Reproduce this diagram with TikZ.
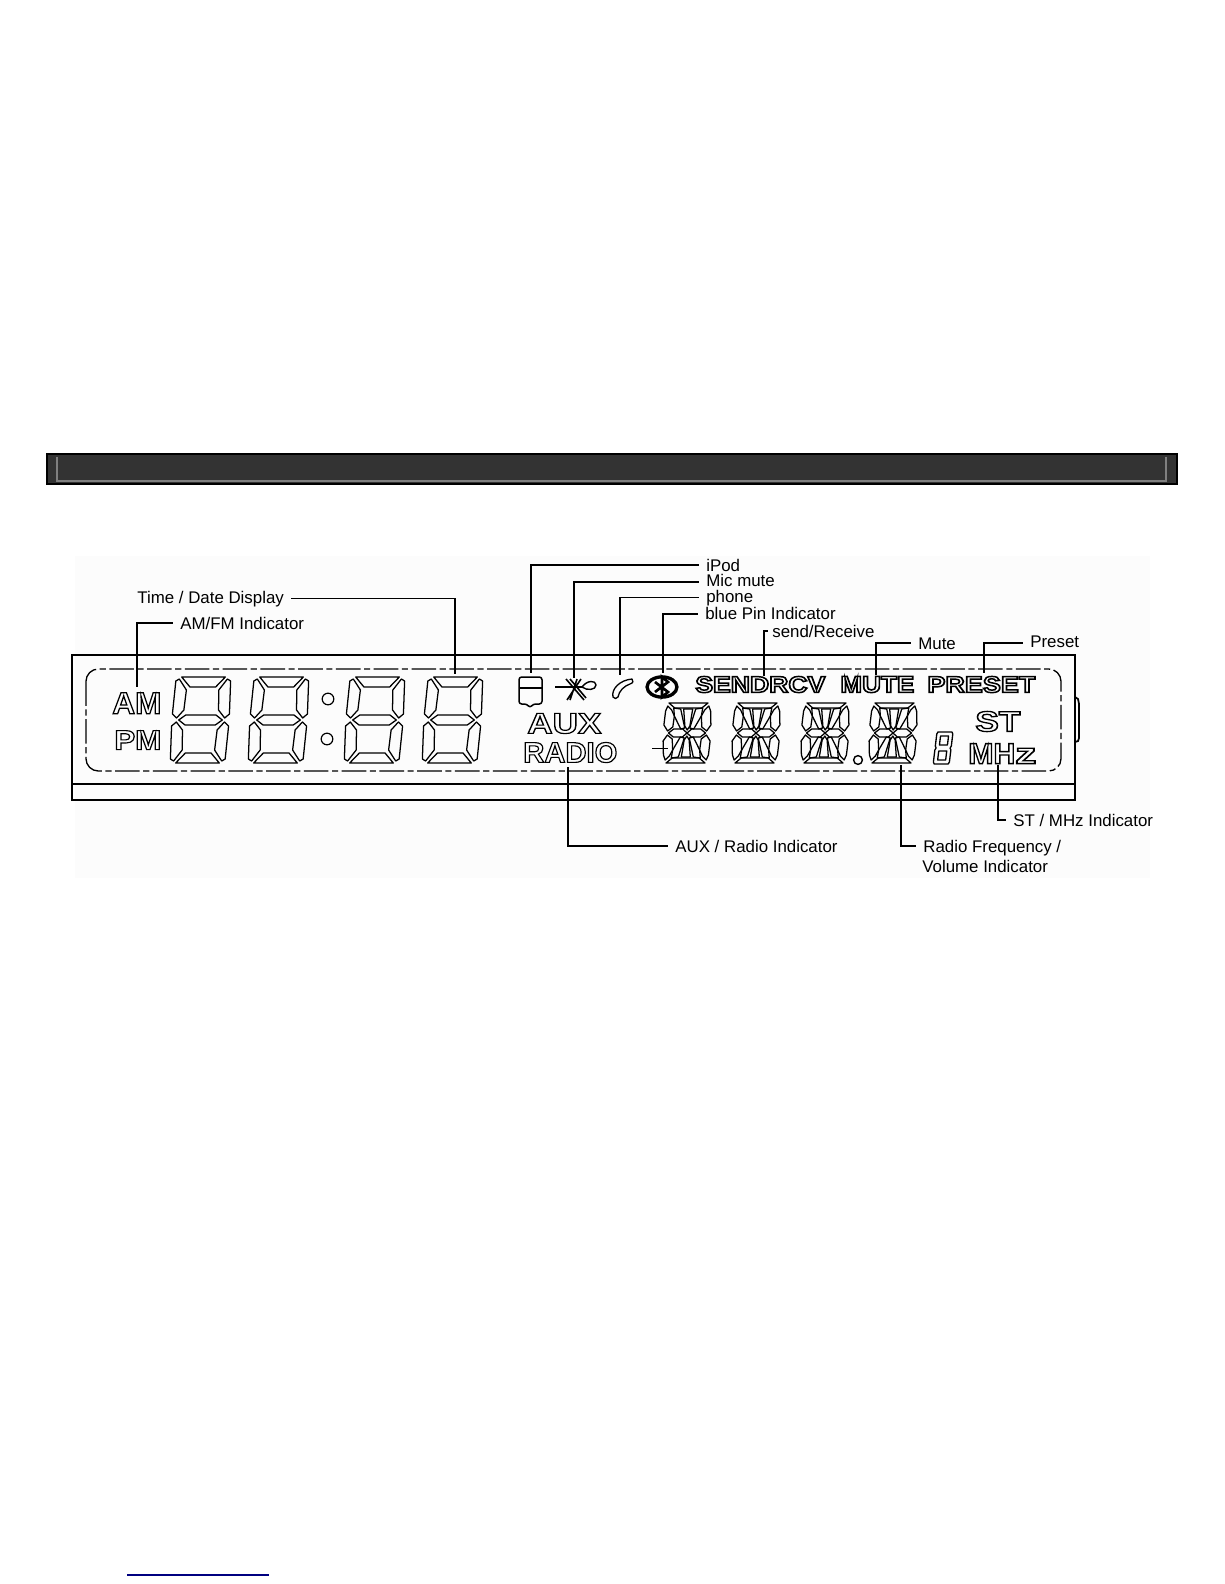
\documentclass[tikz,border=0pt]{standalone}
\usepackage{fontspec}
\usetikzlibrary{shapes.geometric}
\setmainfont{Liberation Sans}
\newlength\pxu
\setlength\pxu{0.02cm}
\newcommand\outl[2]{\special{pdf:code 1 Tr #1 w}#2\special{pdf:code 0 Tr}}
% outlined LCD legend: name, x, y of lower edge, width, height, stroke, text
\newcommand\lcdtext[7]{\node[lcdlegend] (#1) at (#2,#3) {\resizebox{#4\pxu}{#5\pxu}{\fontsize{20}{24}\selectfont\bfseries\outl{#6}{#7}}};}
% seven segment digit, origin at the upper left corner
\newcommand\segdigit[2]{\begin{scope}[shift={(#1,#2)},xslant=0.07,xscale=1.118]
\draw[seg] (6,0)--(45,0)--(37,10)--(14,10)--cycle;
\draw[seg] (6,86)--(45,86)--(37,76)--(14,76)--cycle;
\draw[seg] (6,43)--(12,38)--(39,38)--(45,43)--(39,48)--(12,48)--cycle;
\draw[seg] (1,4)--(4,2)--(11,13)--(10,33)--(4,41)--(0,37)--cycle;
\draw[seg] (50,4)--(47,2)--(40,13)--(41,33)--(47,41)--(51,37)--cycle;
\draw[seg] (0,49)--(4,45)--(10,53)--(11,73)--(4,84)--(1,82)--cycle;
\draw[seg] (51,49)--(47,45)--(41,53)--(40,73)--(47,84)--(50,82)--cycle;
\end{scope}}
% fourteen segment digit
\newcommand\alphadigit[2]{\begin{scope}[shift={(#1,#2)},xslant=0.05]
\draw[seg] (4,0)--(43,0)--(37,5)--(10,5)--cycle;
\draw[seg] (4,60)--(43,60)--(37,55)--(10,55)--cycle;
\draw[seg] (0,22)--(1,8)--(3,3)--(7,7)--(10,13)--(9,24)--(4,28)--cycle;
\draw[seg] (47,22)--(46,8)--(44,3)--(40,7)--(37,13)--(38,24)--(43,28)--cycle;
\draw[seg] (0,38)--(4,32)--(9,36)--(10,47)--(7,53)--(3,57)--(1,52)--cycle;
\draw[seg] (47,38)--(43,32)--(38,36)--(37,47)--(40,53)--(44,57)--(46,52)--cycle;
\draw[seg] (19,6)--(28,6)--(26,23)--(23.5,27)--(21,23)--cycle;
\draw[seg] (19,54)--(28,54)--(26,37)--(23.5,33)--(21,37)--cycle;
\draw[seg] (9,5)--(16,6)--(21,25)--(17,26)--(10,13)--cycle;
\draw[seg] (38,5)--(31,6)--(26,25)--(30,26)--(37,13)--cycle;
\draw[seg] (9,55)--(16,54)--(21,35)--(17,34)--(10,47)--cycle;
\draw[seg] (38,55)--(31,54)--(26,35)--(30,34)--(37,47)--cycle;
\draw[seg] (5,30)--(10,26)--(19,26)--(23.5,30)--(19,34)--(10,34)--cycle;
\draw[seg] (23.5,30)--(28,26)--(37,26)--(42,30)--(37,34)--(28,34)--cycle;
\end{scope}}
\tikzset{
  seg/.style={draw=black,line width=0.72pt,line join=round},
  conn/.style={draw=black,line width=0.95pt,shorten <=4pt},
  lab/.style={inner sep=0pt,anchor=base west,font=\fontsize{9.6}{11}\selectfont,text=black},
  lcdlegend/.style={inner sep=0pt,anchor=south west},
  frameline/.style={draw=black,line width=1pt},
  lcdedge/.style={draw=black,line width=0.75pt,dash pattern=on 14pt off 2pt on 3.5pt off 2pt},
}
\begin{document}
\begin{tikzpicture}[x=0.02cm,y=-0.02cm]
\path[use as bounding box,fill=white] (0,0) rectangle (1224,1584);
% heading band
\draw[fill=black!80,draw=black,line width=1pt] (47,454) rectangle (1177,484);
\draw[draw=black!50,line width=0.8pt] (57,457) |- (1166,481) -- (1166,457);
% faint picture ground
\fill[black!1] (75,556) rectangle (1150,878);
% housing
\draw[frameline] (72,655) rectangle (1075,800);
\draw[frameline] (72,784) -- (1075,784);
\draw[frameline] (1075,697) -- (1078,699) -- (1079,704) -- (1079,738) -- (1078,741) -- (1075,742);
\draw[lcdedge,rounded corners=7pt] (86,669) rectangle (1061,771);
% clock digits
\segdigit{175}{677}
\segdigit{253}{677}
\segdigit{349}{677}
\segdigit{427}{677}
\node[circle,draw=black,line width=0.7pt,minimum size=6.6pt,inner sep=0pt] (dotup) at (328,699) {};
\node[circle,draw=black,line width=0.7pt,minimum size=6.6pt,inner sep=0pt] (dotdn) at (327,739) {};
% frequency digits
\alphadigit{665}{703}
\alphadigit{734}{703}
\alphadigit{803}{703}
\alphadigit{871}{703}
\draw[draw=black,line width=0.5pt] (652,748) -- (668,748);
\node[circle,draw=black,line width=0.8pt,minimum size=5pt,inner sep=0pt] (decdot) at (858,760) {};
\begin{scope}[shift={(937,732)},xslant=0.12]
\draw[seg,line width=0.75pt] (1,0)--(15,0)--(16,2)--(16,14)--(15,16)--(16,18)--(16,30)--(15,32)--(1,32)--(0,30)--(0,18)--(1,16)--(0,14)--(0,2)--cycle;
\draw[seg,line width=0.75pt] (4,4)--(12,4)--(12,13)--(4,13)--cycle (4,19)--(12,19)--(12,28)--(4,28)--cycle;
\end{scope}
% LCD legends
\lcdtext{am}{112}{714}{49}{21}{0.8}{AM}
\lcdtext{pm}{114}{750}{47}{19}{0.8}{PM}
\lcdtext{aux}{527}{734}{74}{20}{0.8}{AUX}
\lcdtext{radio}{523}{763}{94}{20}{0.8}{RADIO}
\lcdtext{sendrcv}{695}{693}{130}{16}{1.3}{SENDRCV}
\lcdtext{mute}{840}{693}{74}{16}{1.3}{MUTE}
\lcdtext{preset}{927}{693}{108}{16}{1.3}{PRESET}
\lcdtext{st}{975}{732}{45}{20}{0.9}{ST}
\lcdtext{mhz}{968}{764}{68}{20}{0.9}{MH\scalebox{1.4}[1]{z}}
% icons
\draw[seg,line width=0.85pt,rounded corners=1.5pt] (519,677) -- (542,677) -- (542,704) -- (533,704) -- (530,708) -- (527,704) -- (519,704) -- cycle;
\draw[seg,line width=0.85pt] (519,688) -- (542,688);
\draw[seg,line width=0.9pt] (555,687) -- (582,687) (566,679) -- (584,700) (581,679) -- (567,700) (570,679) -- (586,698) (577,679) -- (570,700);
\draw[seg,line width=0.8pt] (582,687) .. controls (587,680) and (596,680) .. (596,685) .. controls (596,690) and (587,691) .. (582,687);
\draw[seg,line width=0.75pt] (613,697) .. controls (611,689) and (620,680) .. (632,679) .. controls (634,681) and (633,683) .. (630,684) .. controls (624,686) and (619,691) .. (618,697) .. controls (617,699) and (614,699) .. (613,697) -- cycle;
\node[ellipse,draw=black,line width=1.9pt,minimum width=17pt,minimum height=11.5pt,inner sep=0pt] (btic) at (662,687) {};
\draw[black,line width=1.5pt,line join=miter] (655,682) -- (668,692) -- (662,697) -- (662,677) -- (668,682) -- (655,692);
% connector targets
\coordinate (tgtAM) at (137,687);
\coordinate (tgtTime) at (455,674);
\coordinate (tgtIpod) at (531,673);
\coordinate (tgtMic) at (574,678);
\coordinate (tgtPhone) at (620,675);
\coordinate (tgtBlue) at (663,673);
\coordinate (tgtSend) at (764,676);
\coordinate (tgtMute) at (876,675);
\coordinate (tgtPreset) at (984,673);
\coordinate (tgtST) at (998,765);
\coordinate (tgtFreq) at (901,765);
\coordinate (tgtAux) at (568,767);
% labels
\node[lab] (lTime) at (137,603) {Time / Date Display};
\node[lab] (lAM) at (180,629) {AM/FM Indicator};
\node[lab] (lIpod) at (706,571) {iPod};
\node[lab] (lMic) at (706,586) {Mic mute};
\node[lab] (lPhone) at (706,602) {phone};
\node[lab] (lBlue) at (705,619) {blue Pin Indicator};
\node[lab] (lSend) at (772,637) {send/Receive};
\node[lab] (lMute) at (918,649) {Mute};
\node[lab] (lPreset) at (1030,647) {Preset};
\node[lab] (lST) at (1013,826) {ST / MHz Indicator};
\node[lab] (lFreq) at (923,852) {Radio Frequency /};
\node[lab] (lVol) at (922,872) {Volume Indicator};
\node[lab] (lAux) at (675,852) {AUX / Radio Indicator};
% connectors
\draw[conn] (lTime.east) -| (tgtTime);
\draw[conn] (lAM.west) -| (tgtAM);
\draw[conn] (lIpod.west) -| (tgtIpod);
\draw[conn] ([yshift=-1pt]lMic.west) -| (tgtMic);
\draw[conn] (lPhone.west) -| (tgtPhone);
\draw[conn] ([yshift=-0.6pt]lBlue.west) -| (tgtBlue);
\draw[conn,shorten <=2.3pt] (lSend.west) -| (tgtSend);
\draw[conn] (lMute.west) -| (tgtMute);
\draw[conn] ([yshift=-1.1pt]lPreset.west) -| (tgtPreset);
\draw[conn] (lST.west) -| (tgtST);
\draw[conn] ([yshift=0.9pt]lFreq.west) -| (tgtFreq);
\draw[conn] (lAux.west) -| (tgtAux);
% rule at the foot of the page
\draw[draw=blue!50!black,line width=0.7pt] (127,1575) -- (269,1575);
\end{tikzpicture}
\end{document}
